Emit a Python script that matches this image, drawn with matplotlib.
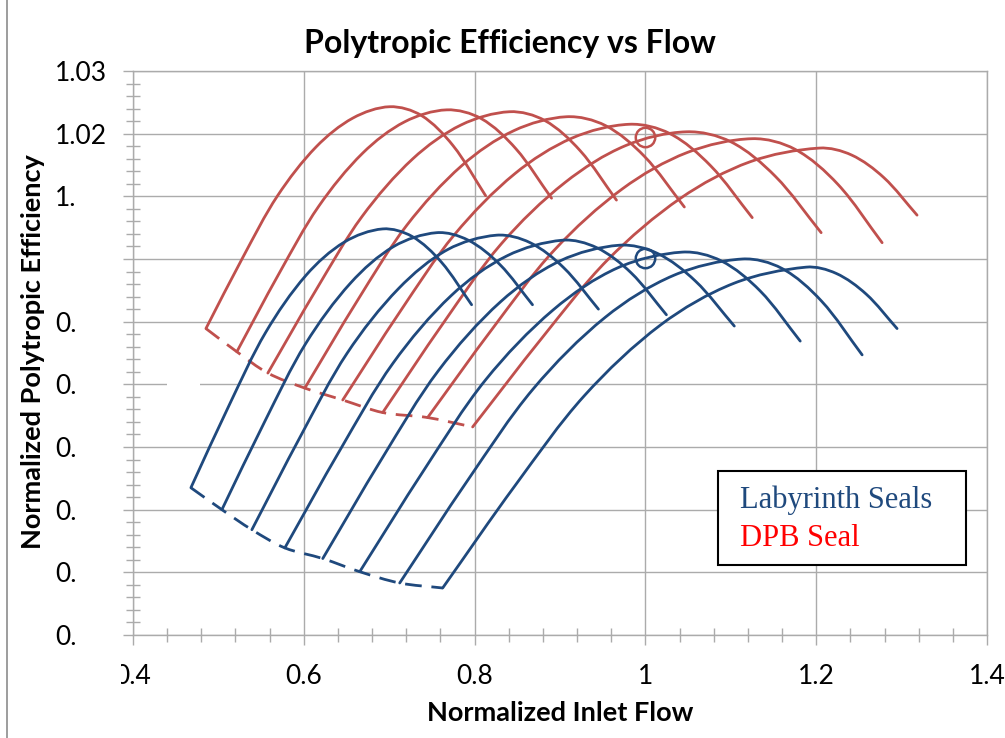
import numpy as np
import matplotlib.pyplot as plt
from matplotlib.path import Path
from matplotlib.patches import PathPatch, Rectangle

# --- Data (surge point first, choke point last) ---

# DPB seal speed lines
dpb_flow = [
    [0.4854, 0.5284, 0.5693, 0.6145, 0.6576, 0.7006, 0.7377, 0.7747, 0.8129],
    [0.5216, 0.5707, 0.6174, 0.6690, 0.7182, 0.7673, 0.8078, 0.8483, 0.8901],
    [0.5579, 0.6145, 0.6683, 0.7277, 0.7843, 0.8409, 0.8822, 0.9235, 0.9661],
    [0.6012, 0.6625, 0.7207, 0.7850, 0.8463, 0.9076, 0.9531, 0.9987, 1.0456],
    [0.6456, 0.7127, 0.7765, 0.8470, 0.9142, 0.9813, 1.0288, 1.0762, 1.1251],
    [0.6924, 0.7635, 0.8311, 0.9058, 0.9769, 1.0480, 1.1001, 1.1521, 1.2058],
    [0.7450, 0.8210, 0.8932, 0.9731, 1.0491, 1.1251, 1.1753, 1.2255, 1.2772],
    [0.7977, 0.8789, 0.9560, 1.0412, 1.1223, 1.2035, 1.2413, 1.2791, 1.3181],
]
dpb_eff = [
    [0.9889, 1.0002, 1.0101, 1.0179, 1.0225, 1.0243, 1.0229, 1.0181, 1.0101],
    [0.9852, 0.9976, 1.0084, 1.0169, 1.0219, 1.0238, 1.0224, 1.0176, 1.0097],
    [0.9818, 0.9951, 1.0068, 1.0160, 1.0214, 1.0235, 1.0221, 1.0173, 1.0094],
    [0.9794, 0.9933, 1.0054, 1.0149, 1.0205, 1.0227, 1.0213, 1.0164, 1.0083],
    [0.9775, 0.9916, 1.0039, 1.0136, 1.0193, 1.0215, 1.0200, 1.0149, 1.0066],
    [0.9755, 0.9898, 1.0024, 1.0122, 1.0181, 1.0203, 1.0187, 1.0132, 1.0042],
    [0.9747, 0.9889, 1.0014, 1.0112, 1.0170, 1.0192, 1.0175, 1.0119, 1.0026],
    [0.9732, 0.9874, 0.9999, 1.0097, 1.0155, 1.0177, 1.0166, 1.0130, 1.0070],
]

# Labyrinth seal speed lines
lab_flow = [
    [0.4678, 0.5127, 0.5554, 0.6026, 0.6475, 0.6924, 0.7268, 0.7611, 0.7965],
    [0.5041, 0.5544, 0.6022, 0.6550, 0.7053, 0.7556, 0.7926, 0.8297, 0.8678],
    [0.5392, 0.5965, 0.6509, 0.7111, 0.7684, 0.8257, 0.8651, 0.9044, 0.9450],
    [0.5778, 0.6428, 0.7046, 0.7729, 0.8379, 0.9029, 0.9431, 0.9832, 1.0246],
    [0.6222, 0.6917, 0.7577, 0.8306, 0.9001, 0.9696, 1.0140, 1.0584, 1.1041],
    [0.6655, 0.7411, 0.8128, 0.8922, 0.9677, 1.0433, 1.0888, 1.1344, 1.1813],
    [0.7123, 0.7925, 0.8688, 0.9530, 1.0333, 1.1135, 1.1598, 1.2061, 1.2538],
    [0.7626, 0.8477, 0.9286, 1.0180, 1.1032, 1.1883, 1.2234, 1.2585, 1.2947],
]
lab_eff = [
    [0.9635, 0.9767, 0.9883, 0.9974, 1.0027, 1.0048, 1.0036, 0.9995, 0.9927],
    [0.9600, 0.9741, 0.9865, 0.9962, 1.0020, 1.0042, 1.0030, 0.9991, 0.9927],
    [0.9568, 0.9718, 0.9850, 0.9953, 1.0015, 1.0038, 1.0026, 0.9986, 0.9920],
    [0.9539, 0.9696, 0.9834, 0.9942, 1.0005, 1.0030, 1.0018, 0.9978, 0.9911],
    [0.9522, 0.9682, 0.9822, 0.9932, 0.9997, 1.0022, 1.0009, 0.9965, 0.9893],
    [0.9501, 0.9664, 0.9807, 0.9919, 0.9986, 1.0011, 0.9997, 0.9949, 0.9869],
    [0.9483, 0.9648, 0.9793, 0.9907, 0.9974, 1.0000, 0.9985, 0.9933, 0.9847],
    [0.9475, 0.9639, 0.9782, 0.9895, 0.9961, 0.9987, 0.9977, 0.9944, 0.9889],
]

# design points (circles)
design_flow = [1.0, 1.0]
design_eff = [1.0195, 1.0002]

ytick_vals = [0.94, 0.95, 0.96, 0.97, 0.98, 0.99, 1.00, 1.01, 1.02, 1.03]
ytick_text = ["0.", "0.", "0.", "0.", "0.", "0.", "", "1.", "1.02", "1.03"]
xtick_vals = [0.4, 0.6, 0.8, 1.0, 1.2, 1.4]
xtick_text = ["0.4", "0.6", "0.8", "1", "1.2", "1.4"]

RED = "#C0504D"
BLUE = "#1F497D"
GRID = "#ABABAB"

# screen aspect of the plot area (px per unit y / px per unit x), used for smoothing
ASPECT = (564 / 0.09) / (854 / 1.0)


def smooth_path(xs, ys):
    # smoothed line like excel: cubic bezier pieces, chord length tangents
    pts = np.column_stack([xs, ys])
    scr = pts * np.array([1.0, ASPECT])
    n = len(pts)
    d = np.linalg.norm(np.diff(scr, axis=0), axis=1)
    tang = np.zeros_like(pts)
    tang[0] = (pts[1] - pts[0]) / d[0]
    tang[-1] = (pts[-1] - pts[-2]) / d[-1]
    for i in range(1, n - 1):
        tang[i] = (pts[i + 1] - pts[i - 1]) / (d[i - 1] + d[i])
    verts = [pts[0]]
    codes = [Path.MOVETO]
    for i in range(n - 1):
        verts += [pts[i] + tang[i] * d[i] / 3, pts[i + 1] - tang[i + 1] * d[i] / 3, pts[i + 1]]
        codes += [Path.CURVE4] * 3
    return Path(verts, codes)


fig = plt.figure(figsize=(10.05, 7.38), dpi=100)
ax = fig.add_axes([133 / 1005, 1 - 635 / 738, 854 / 1005, 564 / 738])

ax.set_xlim(0.4, 1.4)
ax.set_ylim(0.94, 1.03)

# grid
ax.set_axisbelow(True)
ax.grid(True, which="major", color=GRID, lw=1)
for s in ax.spines.values():
    s.set_color(GRID)
    s.set_linewidth(1)

# gap in the 0.98 gridline seen in the original
ax.add_patch(Rectangle((0.44, 0.9797), 0.039, 0.0006, facecolor="white",
                       edgecolor="none", zorder=1))

for group_flow, group_eff, col in [(dpb_flow, dpb_eff, RED), (lab_flow, lab_eff, BLUE)]:
    for fx, fy in zip(group_flow, group_eff):
        ax.add_patch(PathPatch(smooth_path(fx, fy), fill=False, ec=col,
                               lw=2.0, capstyle="round", zorder=2))
    # surge line through the first point of every speed line
    sx = [f[0] for f in group_flow]
    sy = [e[0] for e in group_eff]
    ax.add_patch(PathPatch(smooth_path(sx, sy), fill=False, ec=col, lw=2.0,
                           ls=(0, (6, 3.5)), zorder=2))

ax.plot(design_flow[0], design_eff[0], "o", ms=14, mfc="none", mec=RED, mew=1.8, zorder=3)
ax.plot(design_flow[1], design_eff[1], "o", ms=14, mfc="none", mec=BLUE, mew=1.8, zorder=3)

# ticks
ax.set_xticks(xtick_vals)
ax.set_xticklabels(xtick_text)
ax.set_xticks(np.arange(0.4, 1.401, 0.04), minor=True)
ax.set_yticks(ytick_vals)
ax.set_yticklabels(ytick_text, ha="left")
ax.set_yticks(np.arange(0.94, 1.0301, 0.002), minor=True)

ax.tick_params(axis="both", which="major", direction="out", length=7,
               color=GRID, width=1, labelsize=19)
ax.tick_params(axis="both", which="minor", direction="inout", length=10,
               color=GRID, width=1)
ax.tick_params(axis="y", which="major", pad=49)
ax.tick_params(axis="x", which="major", pad=14)
for lab in ax.get_xticklabels() + ax.get_yticklabels():
    lab.set_fontfamily("Lato")

# the original hides the left part of the first x label
fig.patches.append(Rectangle((95 / 1005, 1 - 690 / 738), 26 / 1005, 45 / 738,
                             transform=fig.transFigure, facecolor="white",
                             edgecolor="none", zorder=5))

fig.text(510 / 1005, 1 - 43 / 738, "Polytropic Efficiency vs Flow", ha="center",
         va="center", fontsize=23, fontweight="bold", family="Lato")
fig.text(560 / 1005, 1 - 713 / 738, "Normalized Inlet Flow", ha="center",
         va="center", fontsize=19.5, fontweight="bold", family="Lato")
fig.text(33 / 1005, 1 - 352 / 738, "Normalized Polytropic Efficiency", ha="center",
         va="center", rotation=90, fontsize=19.5, fontweight="bold", family="Lato")

# text box in the lower right
fig.patches.append(Rectangle((718 / 1005, 1 - 565 / 738), 248 / 1005, 94 / 738,
                             transform=fig.transFigure, facecolor="white",
                             edgecolor="black", lw=1.5, zorder=4))
fig.text(740 / 1005, 1 - 500 / 738, "Labyrinth Seals", color=BLUE, fontsize=22,
         family="Liberation Serif", va="center", zorder=6)
fig.text(740 / 1005, 1 - 538 / 738, "DPB Seal", color="#FF0000", fontsize=22,
         family="Liberation Serif", va="center", zorder=6)

# chart area border
fig.patches.append(Rectangle((7 / 1005, -0.1), 1.2, 1.2, transform=fig.transFigure,
                             facecolor="none", edgecolor="#8C8C8C", lw=1.2, zorder=0))

fig.savefig("out.png", dpi=100)
